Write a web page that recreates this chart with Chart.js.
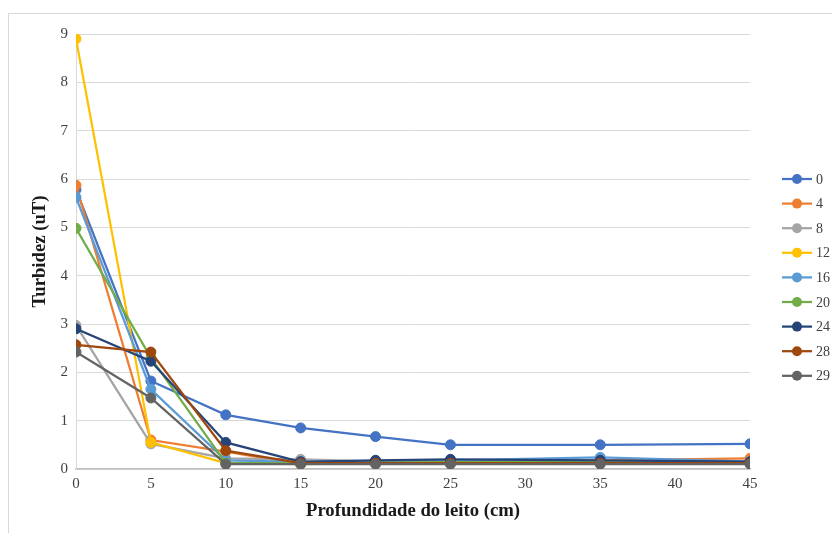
<!DOCTYPE html>
<html>
<head>
<meta charset="utf-8">
<script src="https://cdn.jsdelivr.net/npm/chart.js@4/dist/chart.umd.min.js"></script>
<style>
  body { margin: 0; background: #fff; overflow: hidden; }
  #box {
    position: absolute; left: 8px; top: 13px;
    width: 840px; height: 540px;
    border: 1px solid #d9d9d9;
  }
  #grafico { position: absolute; left: 0; top: 0; }
</style>
</head>
<body>
<div id="box"><canvas id="grafico" width="823" height="519"></canvas></div>
<script>
// profundidade do leito (cm)
const profundidade = [0, 5, 10, 15, 20, 25, 35, 45];

// nomes das séries (tempo)
const series = ['0', '4', '8', '12', '16', '20', '24', '28', '29'];

// turbidez por série
const t0  = [5.78, 1.82, 1.12, 0.85, 0.67, 0.50, 0.50, 0.52];
const t4  = [5.87, 0.60, 0.36, 0.10, 0.15, 0.17, 0.18, 0.22];
const t8  = [2.97, 0.52, 0.22, 0.20, 0.16, 0.16, 0.16, 0.16];
const t12 = [8.90, 0.55, 0.12, 0.10, 0.12, 0.13, 0.13, 0.13];
const t16 = [5.62, 1.65, 0.18, 0.15, 0.17, 0.18, 0.24, 0.15];
const t20 = [4.98, 2.30, 0.12, 0.12, 0.13, 0.14, 0.14, 0.13];
const t24 = [2.90, 2.23, 0.55, 0.15, 0.18, 0.20, 0.18, 0.15];
const t28 = [2.57, 2.42, 0.38, 0.12, 0.12, 0.12, 0.12, 0.12];
const t29 = [2.42, 1.47, 0.10, 0.10, 0.10, 0.10, 0.10, 0.10];

const valores = [t0, t4, t8, t12, t16, t20, t24, t28, t29];

// cores padrão do Excel
const cores = ['#4472c4', '#ed7d31', '#a5a5a5', '#ffc000', '#5b9bd5',
               '#70ad47', '#264478', '#9e480e', '#636363'];

const datasets = series.map((nome, i) => ({
    label: nome,
    data: profundidade.map((x, j) => ({ x: x, y: valores[i][j] })),
    borderColor: cores[i],
    backgroundColor: cores[i],
    pointBackgroundColor: cores[i],
    pointBorderColor: cores[i],
    borderWidth: 2.25,
    pointRadius: 5,
    pointHoverRadius: 5,
    pointBorderWidth: 1,
    order: series.length - i   // última série por cima, como no Excel
}));

// legenda com linha + marcador, no estilo do Excel
const legendaExcel = {
    id: 'legendaExcel',
    afterDraw(chart) {
        const ctx = chart.ctx;
        const x0 = 773, y0 = 165, passo = 24.6;
        ctx.save();
        ctx.font = '14px "Liberation Serif", "Times New Roman", serif';
        ctx.textBaseline = 'middle';
        chart.data.datasets.forEach((ds, i) => {
            const y = y0 + i * passo;
            ctx.strokeStyle = ds.borderColor;
            ctx.lineWidth = 2.25;
            ctx.beginPath();
            ctx.moveTo(x0, y);
            ctx.lineTo(x0 + 30, y);
            ctx.stroke();
            ctx.fillStyle = ds.borderColor;
            ctx.beginPath();
            ctx.arc(x0 + 15, y, 5, 0, Math.PI * 2);
            ctx.fill();
            ctx.fillStyle = '#404040';
            ctx.fillText(ds.label, x0 + 34, y + 1);
        });
        ctx.restore();
    }
};

const fonteEixo = { family: '"Liberation Serif", "Times New Roman", serif', size: 15 };
const fonteTitulo = { family: '"Liberation Serif", "Times New Roman", serif', size: 18.7, weight: 'bold' };

new Chart(document.getElementById('grafico'), {
    type: 'line',
    data: { datasets: datasets },
    options: {
        responsive: false,
        animation: false,
        layout: { padding: { left: 0, top: 20, right: 82, bottom: 9 } },
        plugins: {
            legend: { display: false },
            tooltip: { enabled: false }
        },
        scales: {
            x: {
                type: 'linear',
                min: 0,
                max: 45,
                ticks: { stepSize: 5, color: '#404040', font: fonteEixo, padding: 6 },
                grid: { display: false, drawTicks: false },
                border: { color: '#bfbfbf', width: 1.5 },
                title: {
                    display: true,
                    text: 'Profundidade do leito (cm)',
                    color: '#1a1a1a',
                    font: fonteTitulo,
                    padding: { top: 0, bottom: 2 }
                },
                afterFit: s => { s.height = 55; }
            },
            y: {
                min: 0,
                max: 9,
                ticks: { stepSize: 1, color: '#404040', font: fonteEixo, padding: 8 },
                grid: { color: '#d9d9d9', lineWidth: 1, drawTicks: false },
                border: { color: '#d9d9d9', width: 1 },
                title: {
                    display: true,
                    text: 'Turbidez (uT)',
                    color: '#1a1a1a',
                    font: fonteTitulo,
                    padding: { top: 19.5, bottom: 0 }
                },
                afterFit: s => { s.width = 67; }
            }
        }
    },
    plugins: [legendaExcel]
});
</script>
</body>
</html>
